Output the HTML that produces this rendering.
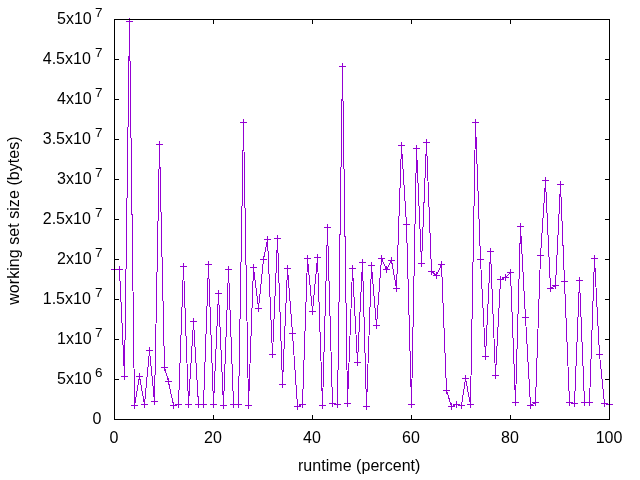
<!DOCTYPE html>
<html><head><meta charset="utf-8"><title>working set size</title>
<style>
html,body{margin:0;padding:0;background:#fff;}
svg{display:block}
.s{font-size:13.5px !important}
text{font-family:"Liberation Sans",Arial,sans-serif;font-size:16px;fill:#000}
</style></head><body>
<svg width="640" height="480" viewBox="0 0 640 480">
<rect width="640" height="480" fill="#fff"/>
<g fill="none" stroke="#9400d3" stroke-width="1" shape-rendering="crispEdges">
<polyline points="114.5,269.5 119.5,269.5 124.5,376.5 129.5,21.5 134.5,405.5 139.5,376.5 144.5,404.5 149.5,350.5 154.5,401.5 159.5,144.5 164.5,367.5 168.5,381.5 173.5,405.5 178.5,404.5 183.5,266.5 188.5,404.5 193.5,321.5 198.5,404.5 203.5,404.5 208.5,264.5 213.5,404.5 218.5,293.5 223.5,405.5 228.5,269.5 233.5,404.5 238.5,404.5 243.5,122.5 248.5,405.5 253.5,267.5 258.5,308.5 263.5,259.5 267.5,239.5 272.5,354.5 277.5,238.5 282.5,384.5 287.5,268.5 292.5,333.5 297.5,406.5 302.5,404.5 307.5,258.5 312.5,311.5 317.5,257.5 322.5,405.5 327.5,227.5 332.5,403.5 337.5,404.5 342.5,66.5 347.5,403.5 352.5,268.5 357.5,362.5 362.5,262.5 366.5,406.5 371.5,265.5 376.5,325.5 381.5,258.5 386.5,269.5 391.5,260.5 396.5,288.5 401.5,145.5 406.5,224.5 411.5,404.5 416.5,148.5 421.5,263.5 426.5,142.5 431.5,271.5 436.5,275.5 441.5,264.5 446.5,390.5 451.5,406.5 456.5,404.5 461.5,405.5 465.5,378.5 470.5,404.5 475.5,122.5 480.5,259.5 485.5,356.5 490.5,251.5 495.5,375.5 500.5,279.5 505.5,277.5 510.5,272.5 515.5,402.5 520.5,226.5 525.5,317.5 530.5,405.5 535.5,402.5 540.5,255.5 545.5,180.5 550.5,288.5 555.5,285.5 560.5,184.5 564.5,281.5 569.5,402.5 574.5,403.5 579.5,280.5 584.5,402.5 589.5,402.5 594.5,258.5 599.5,354.5 604.5,403.5 609.5,404.5"/>
<path d="M111,269.5h7M114.5,266v7M116,269.5h7M119.5,266v7M121,376.5h7M124.5,373v7M126,21.5h7M129.5,18v7M131,405.5h7M134.5,402v7M136,376.5h7M139.5,373v7M141,404.5h7M144.5,401v7M146,350.5h7M149.5,347v7M151,401.5h7M154.5,398v7M156,144.5h7M159.5,141v7M161,367.5h7M164.5,364v7M165,381.5h7M168.5,378v7M170,405.5h7M173.5,402v7M175,404.5h7M178.5,401v7M180,266.5h7M183.5,263v7M185,404.5h7M188.5,401v7M190,321.5h7M193.5,318v7M195,404.5h7M198.5,401v7M200,404.5h7M203.5,401v7M205,264.5h7M208.5,261v7M210,404.5h7M213.5,401v7M215,293.5h7M218.5,290v7M220,405.5h7M223.5,402v7M225,269.5h7M228.5,266v7M230,404.5h7M233.5,401v7M235,404.5h7M238.5,401v7M240,122.5h7M243.5,119v7M245,405.5h7M248.5,402v7M250,267.5h7M253.5,264v7M255,308.5h7M258.5,305v7M260,259.5h7M263.5,256v7M264,239.5h7M267.5,236v7M269,354.5h7M272.5,351v7M274,238.5h7M277.5,235v7M279,384.5h7M282.5,381v7M284,268.5h7M287.5,265v7M289,333.5h7M292.5,330v7M294,406.5h7M297.5,403v7M299,404.5h7M302.5,401v7M304,258.5h7M307.5,255v7M309,311.5h7M312.5,308v7M314,257.5h7M317.5,254v7M319,405.5h7M322.5,402v7M324,227.5h7M327.5,224v7M329,403.5h7M332.5,400v7M334,404.5h7M337.5,401v7M339,66.5h7M342.5,63v7M344,403.5h7M347.5,400v7M349,268.5h7M352.5,265v7M354,362.5h7M357.5,359v7M359,262.5h7M362.5,259v7M363,406.5h7M366.5,403v7M368,265.5h7M371.5,262v7M373,325.5h7M376.5,322v7M378,258.5h7M381.5,255v7M383,269.5h7M386.5,266v7M388,260.5h7M391.5,257v7M393,288.5h7M396.5,285v7M398,145.5h7M401.5,142v7M403,224.5h7M406.5,221v7M408,404.5h7M411.5,401v7M413,148.5h7M416.5,145v7M418,263.5h7M421.5,260v7M423,142.5h7M426.5,139v7M428,271.5h7M431.5,268v7M433,275.5h7M436.5,272v7M438,264.5h7M441.5,261v7M443,390.5h7M446.5,387v7M448,406.5h7M451.5,403v7M453,404.5h7M456.5,401v7M458,405.5h7M461.5,402v7M462,378.5h7M465.5,375v7M467,404.5h7M470.5,401v7M472,122.5h7M475.5,119v7M477,259.5h7M480.5,256v7M482,356.5h7M485.5,353v7M487,251.5h7M490.5,248v7M492,375.5h7M495.5,372v7M497,279.5h7M500.5,276v7M502,277.5h7M505.5,274v7M507,272.5h7M510.5,269v7M512,402.5h7M515.5,399v7M517,226.5h7M520.5,223v7M522,317.5h7M525.5,314v7M527,405.5h7M530.5,402v7M532,402.5h7M535.5,399v7M537,255.5h7M540.5,252v7M542,180.5h7M545.5,177v7M547,288.5h7M550.5,285v7M552,285.5h7M555.5,282v7M557,184.5h7M560.5,181v7M561,281.5h7M564.5,278v7M566,402.5h7M569.5,399v7M571,403.5h7M574.5,400v7M576,280.5h7M579.5,277v7M581,402.5h7M584.5,399v7M586,402.5h7M589.5,399v7M591,258.5h7M594.5,255v7M596,354.5h7M599.5,351v7M601,403.5h7M604.5,400v7M606,404.5h7M609.5,401v7"/>
</g>
<g fill="none" stroke="#000" stroke-width="1" shape-rendering="crispEdges">
<path d="M114,419.5h5M610,419.5h-5M114,379.5h5M610,379.5h-5M114,339.5h5M610,339.5h-5M114,299.5h5M610,299.5h-5M114,259.5h5M610,259.5h-5M114,219.5h5M610,219.5h-5M114,179.5h5M610,179.5h-5M114,139.5h5M610,139.5h-5M114,99.5h5M610,99.5h-5M114,59.5h5M610,59.5h-5M114,19.5h5M610,19.5h-5M114.5,420v-5M114.5,19v5M213.5,420v-5M213.5,19v5M312.5,420v-5M312.5,19v5M411.5,420v-5M411.5,19v5M510.5,420v-5M510.5,19v5M609.5,420v-5M609.5,19v5"/>
<rect x="114.5" y="19.5" width="495" height="400"/>
</g>
<text x="101.3" y="424" text-anchor="end">0</text>
<text x="91.7" y="384" text-anchor="end">5x10</text><text x="95" y="377.2" class="s">6</text>
<text x="91.7" y="344" text-anchor="end">1x10</text><text x="95" y="337.2" class="s">7</text>
<text x="90.8" y="304" text-anchor="end">1.5x10</text><text x="95" y="297.2" class="s">7</text>
<text x="91.7" y="264" text-anchor="end">2x10</text><text x="95" y="257.2" class="s">7</text>
<text x="90.8" y="224" text-anchor="end">2.5x10</text><text x="95" y="217.2" class="s">7</text>
<text x="91.7" y="184" text-anchor="end">3x10</text><text x="95" y="177.2" class="s">7</text>
<text x="90.8" y="144" text-anchor="end">3.5x10</text><text x="95" y="137.2" class="s">7</text>
<text x="91.7" y="104" text-anchor="end">4x10</text><text x="95" y="97.2" class="s">7</text>
<text x="90.8" y="64" text-anchor="end">4.5x10</text><text x="95" y="57.2" class="s">7</text>
<text x="91.7" y="24" text-anchor="end">5x10</text><text x="95" y="17.2" class="s">7</text>

<text x="114" y="442.8" text-anchor="middle">0</text>
<text x="213" y="442.8" text-anchor="middle">20</text>
<text x="312" y="442.8" text-anchor="middle">40</text>
<text x="411" y="442.8" text-anchor="middle">60</text>
<text x="510" y="442.8" text-anchor="middle">80</text>
<text x="609" y="442.8" text-anchor="middle">100</text>

<text x="359.2" y="470.5" text-anchor="middle" textLength="122.4">runtime (percent)</text>
<text transform="translate(19,220.6) rotate(-90)" text-anchor="middle" textLength="168.4">working set size (bytes)</text>
</svg>
</body></html>
